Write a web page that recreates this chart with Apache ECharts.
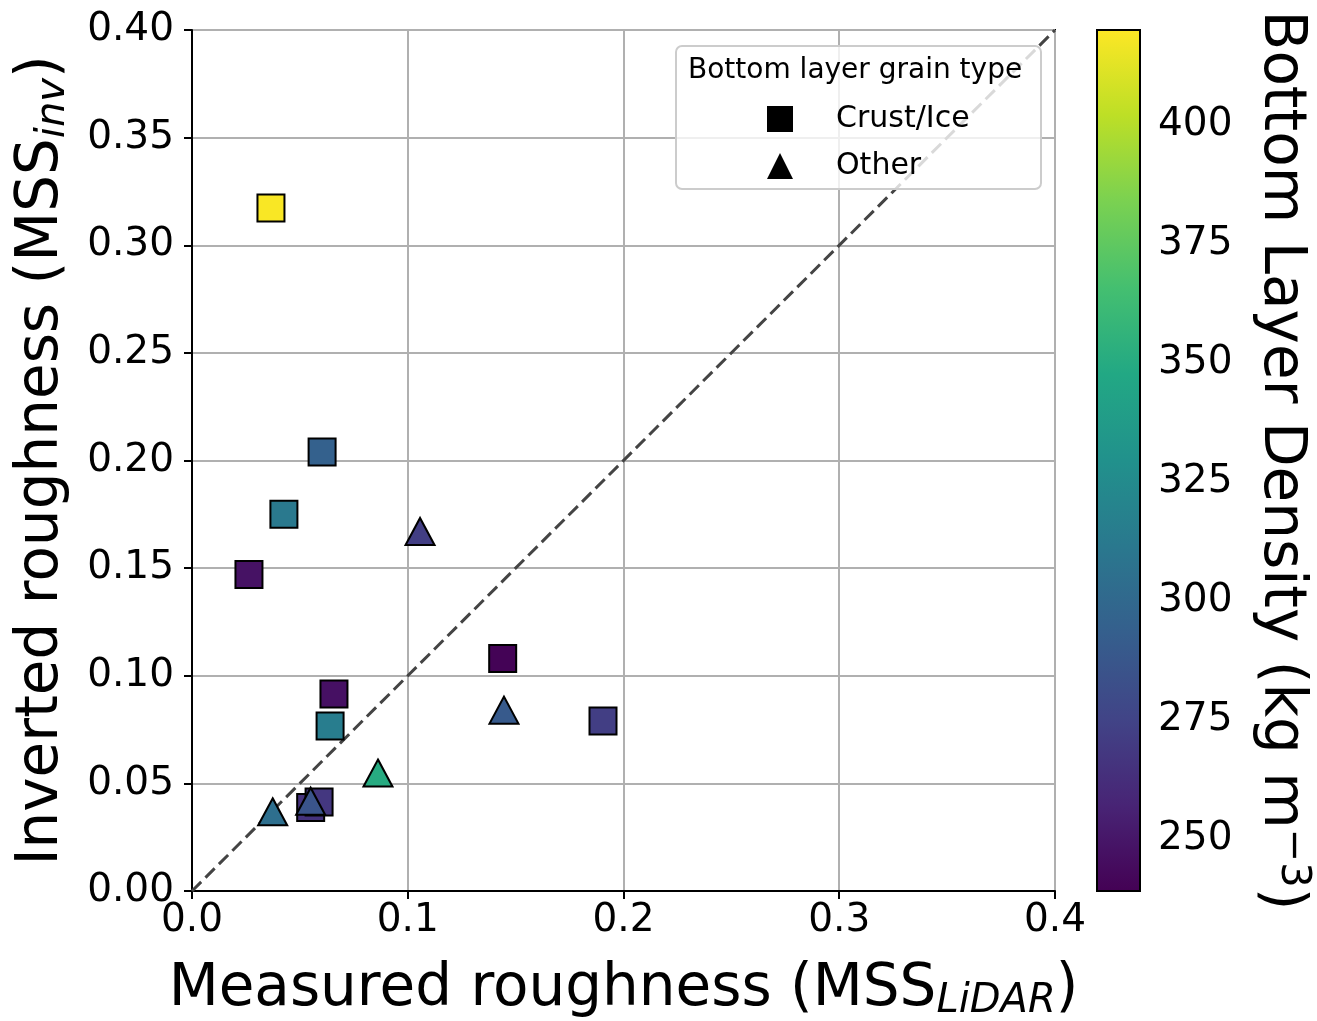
<!DOCTYPE html>
<html lang="en">
<head>
    <meta charset="UTF-8">
    <title>Roughness comparison</title>
    <style>
        body { margin: 0; overflow: hidden; background: #fff; }
        #chart { width: 1317px; height: 1021px; }
    </style>
</head>
<body>
    <div id="chart"></div>
    <script src="https://cdn.jsdelivr.net/npm/echarts@6/dist/echarts.min.js"></script>
    <script>
        // data: [measured MSS, inverted MSS, density]
        var crustIce = [
            [0.0366, 0.3173, 419],
            [0.0603, 0.2040, 295],
            [0.0426, 0.1750, 312],
            [0.0264, 0.1470, 248],
            [0.1440, 0.1080, 240],
            [0.1905, 0.0790, 272],
            [0.0658, 0.0915, 247],
            [0.0640, 0.0767, 315],
            [0.0550, 0.0388, 265],
            [0.0589, 0.0413, 268]
        ];
        var other = [
            [0.1057, 0.1670, 272],
            [0.1446, 0.0840, 290],
            [0.0862, 0.0548, 350],
            [0.0374, 0.0368, 305],
            [0.0550, 0.0417, 286]
        ];
        var oneToOne = [[0, 0], [0.4, 0.4]];
        var densityRange = [239, 420];
        var densityTicks = [250, 275, 300, 325, 350, 375, 400];

        var viridis = ['#440154', '#482475', '#414487', '#355f8d', '#2a788e',
            '#21918c', '#22a884', '#44bf70', '#7ad151', '#bddf26', '#fde725'];

        var font = 'DejaVu Sans';
        var myChart = echarts.init(document.getElementById('chart'));

        function titleRich(subPad) {
            return {
                n: { fontFamily: font, fontSize: 58, color: '#000' },
                s: { fontFamily: font, fontSize: 40, fontStyle: 'italic', color: '#000', padding: subPad }
            };
        }

        var option = {
            animation: false,
            backgroundColor: '#fff',
            grid: [
                { left: 192, right: 262, top: 30, bottom: 130, outerBoundsMode: 'none', containLabel: false,
                  show: true, borderColor: '#000', borderWidth: 2 },
                { left: 1097, right: 177, top: 30, bottom: 130, outerBoundsMode: 'none', containLabel: false }
            ],
            xAxis: [{
                type: 'value', min: 0, max: 0.4, interval: 0.1, gridIndex: 0,
                name: '{n|Measured roughness (MSS}{s|LiDAR}{n|)}',
                nameLocation: 'middle', nameGap: 67,
                nameTextStyle: { rich: titleRich([24, 0, 0, 0]) },
                axisLine: { lineStyle: { color: '#000', width: 2 } },
                axisTick: { length: 8, lineStyle: { color: '#000', width: 2 } },
                axisLabel: { fontFamily: font, fontSize: 39, color: '#000', margin: 10, formatter: function (v) { return v.toFixed(1); } },
                splitLine: { lineStyle: { color: '#b0b0b0', width: 2 } }
            }, {
                type: 'value', min: 0, max: 1, gridIndex: 1, show: false
            }],
            yAxis: [{
                type: 'value', min: 0, max: 0.4, interval: 0.05, gridIndex: 0,
                name: '{n|Inverted roughness (MSS}{s|inv}{n|)}',
                nameLocation: 'middle', nameGap: 118, nameRotate: 90,
                nameTextStyle: { rich: titleRich([24, 0, 0, 0]) },
                axisLine: { lineStyle: { color: '#000', width: 2 } },
                axisTick: { length: 8, lineStyle: { color: '#000', width: 2 } },
                axisLabel: { fontFamily: font, fontSize: 39, color: '#000', margin: 18, formatter: function (v) { return v.toFixed(2); } },
                splitLine: { lineStyle: { color: '#b0b0b0', width: 2 } }
            }, {
                type: 'value', min: densityRange[0], max: densityRange[1], gridIndex: 1, position: 'right',
                name: '{n|Bottom Layer Density (kg m}{s|\u22123}{n|)}',
                nameLocation: 'middle', nameGap: 108, nameRotate: -90,
                nameTextStyle: {
                    rich: {
                        n: { fontFamily: font, fontSize: 58, color: '#000' },
                        s: { fontFamily: font, fontSize: 40, color: '#000', padding: [0, 0, 24, 0] }
                    }
                },
                axisLine: { show: false },
                axisTick: { show: true, length: 8, customValues: densityTicks, lineStyle: { color: '#000', width: 2 } },
                axisLabel: { fontFamily: font, fontSize: 39, color: '#000', margin: 18, customValues: densityTicks },
                splitLine: { show: false }
            }],
            visualMap: {
                show: false, type: 'continuous', dimension: 2, seriesIndex: [1, 2],
                min: densityRange[0], max: densityRange[1],
                inRange: { color: viridis }
            },
            legend: {
                orient: 'vertical', left: 762, top: 99, itemWidth: 26, itemHeight: 26, itemGap: 17,
                textStyle: { fontFamily: font, fontSize: 30, color: '#000', padding: [0, 0, 0, 38] },
                data: [
                    { name: 'Crust/Ice', icon: 'rect', itemStyle: { color: '#000', borderWidth: 0 } },
                    { name: 'Other', icon: 'triangle', itemStyle: { color: '#000', borderWidth: 0 } }
                ],
                z: 20
            },
            graphic: [{
                type: 'rect', left: 675, top: 45, z: 15,
                shape: { width: 365, height: 143, r: 6 },
                style: { fill: 'rgba(255,255,255,0.8)', stroke: '#cccccc', lineWidth: 2 }
            }, {
                type: 'text', left: 688, top: 57, z: 16,
                style: { text: 'Bottom layer grain type', font: '28px "DejaVu Sans"', fill: '#000' }
            }],
            series: [{
                name: '1:1', type: 'line', xAxisIndex: 0, yAxisIndex: 0,
                data: oneToOne, symbol: 'none', silent: true,
                lineStyle: { color: '#444', width: 3, type: [13, 6] }, z: 1
            }, {
                name: 'Crust/Ice', type: 'scatter', xAxisIndex: 0, yAxisIndex: 0,
                data: crustIce, symbol: 'rect', symbolSize: 27,
                itemStyle: { borderColor: '#000', borderWidth: 2, opacity: 1 }, z: 3
            }, {
                name: 'Other', type: 'scatter', xAxisIndex: 0, yAxisIndex: 0,
                data: other, symbol: 'triangle', symbolSize: [29, 27],
                itemStyle: { borderColor: '#000', borderWidth: 2, opacity: 1 }, z: 4
            }, {
                name: 'colorbar', type: 'custom', xAxisIndex: 1, yAxisIndex: 1,
                data: [densityRange], silent: true,
                renderItem: function (params, api) {
                    var cs = params.coordSys;
                    var top = api.coord([0, api.value(1)])[1];
                    var bottom = api.coord([0, api.value(0)])[1];
                    var stops = viridis.map(function (c, i) {
                        return { offset: 1 - i / (viridis.length - 1), color: c };
                    });
                    return {
                        type: 'rect',
                        shape: { x: cs.x, y: top, width: cs.width, height: bottom - top },
                        style: {
                            fill: new echarts.graphic.LinearGradient(0, 0, 0, 1, stops),
                            stroke: '#000', lineWidth: 2
                        }
                    };
                }
            }]
        };

        myChart.setOption(option);
    </script>
</body>
</html>
